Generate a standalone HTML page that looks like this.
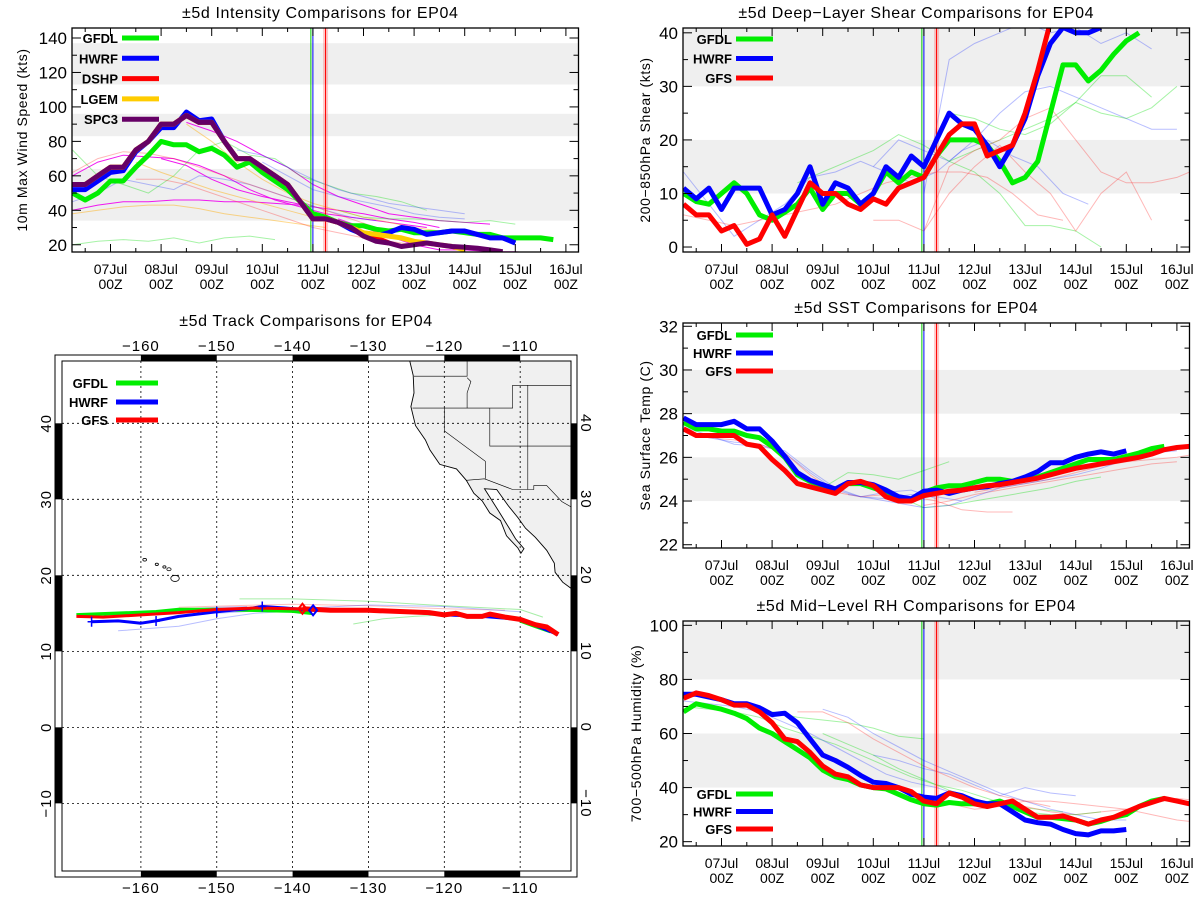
<!DOCTYPE html>
<html><head><meta charset="utf-8"><style>
html,body{margin:0;padding:0;background:#fff;}
svg{display:block;font-family:"Liberation Sans",sans-serif;}
</style></head><body>
<svg id="c" width="1200" height="900" viewBox="0 0 1200 900" xmlns="http://www.w3.org/2000/svg"></svg>
<script>
// ---------- data ----------
const dayLabels = ["07Jul","08Jul","09Jul","10Jul","11Jul","12Jul","13Jul","14Jul","15Jul","16Jul"];
const hourLabel = "00Z";
const seriesStart = -0.75; // days relative to 07Jul 00Z, 6-hourly
// Intensity (kts)
const intGFDL = [50,46,50,57,57,65,72,80,78,78,74,76,72,65,68,62,57,52,45,38,36,33,31,31,29,28,29,27,27,27,28,27,26,26,24,24,24,24,23];
const intHWRF = [52,52,57,62,63,74,80,88,88,97,92,93,80,70,70,65,60,55,45,35,35,33,29,26,25,27,30,29,26,27,28,28,26,24,24,21];
const intDSHP = [55,55,60,65,65,75,80,90,90,95,91,91,80,70,70,65,60,55,45,35,35,33,30,26,24,21];
const intLGEM = [55,55,60,65,65,75,80,90,90,95,91,91,80,70,70,65,60,55,45,35,35,33,30,27,26,25,24,22,21,20,19,17];
const intSPC3 = [55,55,60,65,65,75,80,90,90,95,91,91,80,70,70,65,60,55,45,35,35,33,30,25,22,21,19,20,21,20,19,18.5,18,17,16];
// older (thin) intensity forecasts, 12-hourly: start day then values
const intThinStart = [-0.75,-0.75,1.0,1.5,4.5,-0.75,-0.75,4.5,-0.75,2.5,3.0,-0.75,0.5,1.5,-0.75,0.5];
const intThinKind  = ["m","m","m","m","m","g","g","g","b","b","b","o","o","o","r","r"];
const intThinVals = [
 [60,68,72,71,70,66,60,52,46,42,38,36,34,32,30],
 [40,43,45,45,46,46,45,45,44,43],
 [70,66,58,52,48,45,42,40,38,35,33,30],
 [91,86,80,72,65,55,48,43,38,36,34,33,32],
 [35,30,25,20,17,17,16,16,15],
 [75,60,55,50,60,75,80,72,70,60,55,50,48,45,40],
 [20,22,23,22,24,21,24,25,23],
 [40,36,35,35,34,33,34,32],
 [45,50,58,55,52,60,58,55,50,45,40,36,34],
 [75,72,65,58,52,48,44,42,40,38],
 [68,60,52,48,45,42,38,36,35],
 [38,40,42,43,43,41,38,36,34,32,30],
 [68,62,57,52,48,44,40,36,33],
 [90,80,68,58,50,44,40,36,33,30,28],
 [62,70,74,73,70,65,60,55,50,45,40,35,30],
 [58,58,55,50,45,40,35,30,27,24,22,20]
];
// Shear (kts)
const shrGFDL = [10,8.5,8,10,12,10,6,5,6.5,8,11,7,10,10,8,10,14,12,14,13,17,20,20,20,19,16,12,13,16,25,34,34,31,33,36,38.5,40];
const shrHWRF = [11,9,11,7,11,11,11,6,7,10,15,8,12,11,8,10,15,13,17,15,20,25,23,22,19,15,19,24,32,38,41,40,40,41];
const shrGFS  = [8,6,6,3,4,0.5,1.5,6,2,7,12,10,10,8,7,9,8,11,12,13,17,21,23,23,17,18,19,25,33,42];
const shrThinStart = [4,3,-0.75,1.5,4,4.5,4,3,-0.75];
const shrThinKind  = ["b","b","b","g","g","g","r","r","r"];
const shrThinVals = [
 [10,35,38,40,42,40,41,38,40,37],
 [15,20,18,16,20,25,29,30,28,26,24,22,22],
 [14,8,2,5,8,13,14,16,14,12,14,18,20,17,15,10,8],
 [12,14,16,18,21,19,16,14,10,4,4,3,0],
 [14,25,24,22,21,23,27,32,32,28],
 [16,18,20,22,24,27,25,24,26,30],
 [3,15,18,20,24,26,20,14,12,12,13,15,16,17],
 [5,5,3,10,15,19,14,10,3,10,14,5],
 [6,5,4,5,6,7,8,10,12,13,14,14,13,10,6,5]
];
// SST (C)
const sstGFDL = [27.6,27.3,27.3,27.2,27.2,27.0,26.9,26.5,26.0,25.2,24.9,24.7,24.5,24.8,24.8,24.6,24.4,24.1,24.0,24.4,24.6,24.7,24.7,24.85,25.0,25.0,24.9,25.0,25.1,25.3,25.5,25.7,25.9,25.9,25.9,26.05,26.2,26.4,26.5];
const sstHWRF = [27.8,27.5,27.5,27.5,27.65,27.3,27.3,26.75,26.05,25.3,24.95,24.75,24.55,24.85,24.85,24.75,24.5,24.2,24.1,24.45,24.5,24.35,24.5,24.6,24.65,24.8,24.9,25.1,25.35,25.75,25.75,26.0,26.15,26.25,26.15,26.3];
const sstGFS  = [27.3,27.0,27.0,27.0,27.0,26.6,26.5,25.9,25.4,24.8,24.65,24.5,24.35,24.8,24.9,24.7,24.2,24.0,24.0,24.25,24.35,24.45,24.5,24.6,24.7,24.75,24.85,24.95,25.05,25.2,25.35,25.5,25.6,25.7,25.8,25.9,26.0,26.15,26.35,26.45,26.5];
const sstThinStart = [-0.75,-0.75,2.0,3.5,-0.75,4.0,5.0,2.5];
const sstThinKind  = ["b","b","g","g","r","r","r","b"];
const sstThinVals = [
 [27.4,27.0,26.6,26.5,26.3,25.4,24.6,24.2,24.1,24.3,24.2,24.0],
 [27.2,26.9,26.7,26.6,26.2,25.3,24.5,24.2,24.4,24.5,24.1],
 [24.6,25.3,25.2,25.0,25.4,25.8],
 [24.2,23.7,23.8,24.0,24.2,24.4,24.6,24.9,25.1],
 [27.2,26.9,26.8,26.6,26.2,25.2,24.4,24.2,24.3,24.2,24.0,23.6,23.5,23.5],
 [23.8,24.0,24.3,24.5,24.7,24.9,25.1,25.3,25.5,25.7,25.8],
 [24.4,24.6,24.8,25.0,25.3,25.6,25.8,25.9,26.0,26.2],
 [24.3,24.1,23.9,23.7,23.8,24.2,24.6,24.8,25.0,25.2,25.5,25.9,26.2,26.3]
];
// Mid-level RH (%)
const rhGFDL = [68,71,70,69,67.5,65.5,62,60,57,54,51,46.5,44,43,41,40,39.5,37.5,35.5,34,33.5,34.5,34,34,34,35,33,31,29,29,28.5,28,26.5,27.5,29,30,33,35,36];
const rhHWRF = [74.5,74.5,73.5,72.5,71,71,69.5,67,67.5,64,58,52,50,47.5,44.5,42,41.5,40,37.5,36.5,36,38,37,35,34,34,31,28,27,26.5,24.5,23,22.5,24,24,24.5];
const rhGFS  = [73,75,74,72.5,70.5,70.5,68,64,58,57,53,48,45,44,41,40,40,40,38.5,35,34,38,36.5,34,33,34,35,32,29,29,29.5,28,26.5,28,29,31,33,34.5,36,35,34];
const rhThinStart = [-0.75,1.0,2.0,3.0,-0.75,1.5,4.0,5.5,2.0];
const rhThinKind  = ["g","g","b","b","b","r","r","r","g"];
const rhThinVals = [
 [70,69,68,66,62,59,56,52,48,44,41,39,36,33,32,31],
 [68,66,65,64,62,59,58],
 [69,66,60,55,50,46,42,38,35,32,30,28,28],
 [52,50,47,45,41,37,40,38,37],
 [72,71,70,68,64,60,55,50,45,42,40,37],
 [68,68,64,58,53,48,44,40,37,35,33],
 [36,34,32,33,35,35,34,33,32,30,28,27],
 [33,33,31,30,31,32,34,36,35],
 [60,56,52,47,43,39,36,33,31,30,30,31]
];
// Tracks (lon, lat)
const trkGFSlon  = [-168.5,-165,-160,-155,-150,-145,-140,-138.7,-135,-130,-125,-122,-120,-118.5,-117,-115,-114,-112,-110,-108,-106.5,-105];
const trkGFSlat  = [14.6,14.5,14.8,15.1,15.5,15.7,15.6,15.6,15.4,15.4,15.2,15.1,14.8,15.0,14.6,14.6,14.9,14.5,14.2,13.5,13.2,12.2];
const trkHWRFlon = [-166.5,-163,-160,-158,-155,-150,-146,-144,-141,-137.3,-135,-130,-125,-120,-115,-110,-108,-105];
const trkHWRFlat = [13.9,14.0,13.7,14.0,14.6,15.2,15.6,15.9,15.7,15.4,15.4,15.4,15.2,14.8,14.6,14.2,13.4,12.2];
const trkGFDLlon = [-168.5,-163,-158,-155,-150,-145,-140,-137.5];
const trkGFDLlat = [14.8,15.0,15.2,15.5,15.5,15.4,15.3,15.0];
const trkThinLon = [[-163,-155,-150,-145,-140,-135],[-147,-140,-130,-120,-110,-107],[-155,-148,-140,-130,-120,-112],[-132,-128,-124,-120],[-162,-155,-150,-146],[-150,-140,-130,-120,-110]];
const trkThinLat = [[12.7,13.3,14.3,15.0,15.3,15.5],[16.9,16.9,16.6,16.0,15.5,14.5],[15.8,16.0,16.2,16.0,15.6,15.4],[13.6,14.3,14.6,14.8],[15.0,15.5,15.8,15.9],[15.0,15.6,16.1,15.9,15.2]];

// ---------- helpers ----------
const svg = document.getElementById('c');
const NS = 'http://www.w3.org/2000/svg';
function mk(tag, attrs, parent){ const e=document.createElementNS(NS,tag); for(const k in attrs) e.setAttribute(k,attrs[k]); (parent||svg).appendChild(e); return e; }
const COL = {g:'#00ee00', b:'#0000ff', r:'#ff0000', o:'#ffcc00', p:'#660066', m:'#ff00ff'};
const THIN = {g:['#00dd00',0.35], b:['#3344ff',0.35], r:['#ff3333',0.35], o:['#ffaa00',0.45], m:['#ee00ee',0.9]};

function panel(cfg){
  const g = mk('g',{});
  
  
  const L=cfg.left, R=cfg.right, T=cfg.top, B=cfg.bottom;
  const xs = d => cfg.day0 + d*cfg.ppd;
  const ys = v => B - (v-cfg.vmin)/(cfg.vmax-cfg.vmin)*(B-T);
  const clipId = 'clip-'+cfg.name;
  const cp = mk('clipPath',{id:clipId},g); mk('rect',{x:L,y:T,width:R-L,height:B-T},cp);
  const t = mk('text',{x:(L+R)/2+cfg.titleDx,y:T-10,'text-anchor':'middle','font-size':16,'letter-spacing':'0.6'},g);
  t.textContent = cfg.title;
   
  cfg.bands.forEach(bd=>{
    const r = mk('rect',{x:L,y:ys(Math.min(bd[1],cfg.vmax)),width:R-L,height:ys(bd[0])-ys(Math.min(bd[1],cfg.vmax)),fill:'#efefef'},g);
     
  });
  const plot = mk('g',{'clip-path':'url(#'+clipId+')'},g);
   
  cfg.thinVals.forEach((vals,i)=>{
    const k=cfg.thinKind[i]; const st=cfg.thinStart[i];
    const pts = vals.map((v,j)=>xs(st+j*0.5).toFixed(1)+','+ys(v).toFixed(1)).join(' ');
    const pl = mk('polyline',{points:pts,fill:'none',stroke:THIN[k][0],'stroke-opacity':THIN[k][1],'stroke-width':1},plot);
     
  });
  [[4.0-0.04,'#00cc00'],[4.0,'#0000ff']].forEach(v=>{
    const l=mk('line',{x1:xs(v[0]),x2:xs(v[0]),y1:T,y2:B,stroke:v[1],'stroke-width':1},plot);
     
  });
  const band=mk('rect',{x:xs(4.25)-2.5,y:T,width:5,height:B-T,fill:'#ff6666','fill-opacity':0.35},plot);
   
  const rl=mk('line',{x1:xs(4.25),x2:xs(4.25),y1:T,y2:B,stroke:'#ff0000','stroke-width':1},plot);
   
  cfg.series.forEach(s=>{
    const pts = s.vals.map((v,j)=>xs(seriesStart+j*0.25).toFixed(1)+','+ys(v).toFixed(1)).join(' ');
    const pl = mk('polyline',{points:pts,fill:'none',stroke:s.color,'stroke-width':5,'stroke-linejoin':'round'},plot);
     
  });
  const fr = mk('rect',{x:L,y:T,width:R-L,height:B-T,fill:'none',stroke:'#000','stroke-width':1.3},g);
   
  for(let d=-0.5; d<=9.25; d+=0.5){
    const x=xs(d); if(x<L||x>R) continue;
    const len = (Math.abs(d-Math.round(d))<0.01)?8:4;
    mk('line',{x1:x,x2:x,y1:B,y2:B-len,stroke:'#000'},g);
    mk('line',{x1:x,x2:x,y1:T,y2:T+len,stroke:'#000'},g);
  }
  dayLabels.forEach((lab,i)=>{
    const x=xs(i);
    const t1=mk('text',{x:x,y:B+22,'text-anchor':'middle','font-size':14},g); t1.textContent=lab;
     
    const t2=mk('text',{x:x,y:B+37,'text-anchor':'middle','font-size':14},g); t2.textContent=hourLabel;
     
  });
  for(let v=Math.ceil(cfg.vmin/cfg.minor)*cfg.minor; v<=cfg.vmax; v+=cfg.minor){
    const y=ys(v); const major = Math.abs(v/cfg.major-Math.round(v/cfg.major))<0.001;
    const len = major?9:5;
    mk('line',{x1:L,x2:L+len,y1:y,y2:y,stroke:'#000'},g);
    mk('line',{x1:R,x2:R-len,y1:y,y2:y,stroke:'#000'},g);
    if(major && v>=cfg.labMin){
      const tl=mk('text',{x:L-5,y:y+6,'text-anchor':'end','font-size':17},g); tl.textContent=String(v);
       
    }
  }
  const yt=mk('text',{x:0,y:0,'text-anchor':'middle','font-size':14,'letter-spacing':'0.6',transform:'translate('+cfg.ytX+','+((T+B)/2)+') rotate(-90)'},g);
  yt.textContent=cfg.ytitle;  
  cfg.series.slice().forEach((s,i)=>{
    const y = cfg.legY + i*cfg.legDy;
    const lt=mk('text',{x:cfg.legTextX,y:y+5,'text-anchor':'end','font-size':13,'font-weight':'bold'},g); lt.textContent=s.label;
     
    const ll=mk('line',{x1:cfg.legTextX+4,x2:cfg.legTextX+41,y1:y,y2:y,stroke:s.color,'stroke-width':5},g);
     
  });
}

const leftCol = {left:72, right:578.5, day0:110.5, ppd:50.6};
const rightCol = {left:683, right:1189.5, day0:721.5, ppd:50.6};

panel(Object.assign({}, leftCol, {name:'intensity-panel', title:'±5d Intensity Comparisons for EP04', titleDx:-5,
  top:28, bottom:252, vmin:15.8, vmax:145.8, major:20, minor:10, labMin:20,
  bands:[[113,137],[83,96],[34,64]], ytitle:'10m Max Wind Speed (kts)', ytX:27,
  thinVals:intThinVals, thinKind:intThinKind, thinStart:intThinStart,
  series:[{id:'gfdl',label:'GFDL',color:COL.g,vals:intGFDL},{id:'hwrf',label:'HWRF',color:COL.b,vals:intHWRF},
          {id:'dshp',label:'DSHP',color:COL.r,vals:intDSHP},{id:'lgem',label:'LGEM',color:COL.o,vals:intLGEM},
          {id:'spc3',label:'SPC3',color:COL.p,vals:intSPC3}],
  legTextX:118, legY:38, legDy:20.3}));

panel(Object.assign({}, rightCol, {name:'shear-panel', title:'±5d Deep−Layer Shear Comparisons for EP04', titleDx:-20,
  top:28, bottom:252, vmin:-0.93, vmax:40.9, major:10, minor:5, labMin:0,
  bands:[[10,20],[30,41]], ytitle:'200−850hPa Shear (kts)', ytX:650,
  thinVals:shrThinVals, thinKind:shrThinKind, thinStart:shrThinStart,
  series:[{id:'gfdl',label:'GFDL',color:COL.g,vals:shrGFDL},{id:'hwrf',label:'HWRF',color:COL.b,vals:shrHWRF},{id:'gfs',label:'GFS',color:COL.r,vals:shrGFS}],
  legTextX:732, legY:39, legDy:19.5}));

panel(Object.assign({}, rightCol, {name:'sst-panel', title:'±5d SST Comparisons for EP04', titleDx:-20,
  top:323, bottom:548, vmin:21.85, vmax:32.15, major:2, minor:1, labMin:22,
  bands:[[24,26],[28,30]], ytitle:'Sea Surface Temp (C)', ytX:650,
  thinVals:sstThinVals, thinKind:sstThinKind, thinStart:sstThinStart,
  series:[{id:'gfdl',label:'GFDL',color:COL.g,vals:sstGFDL},{id:'hwrf',label:'HWRF',color:COL.b,vals:sstHWRF},{id:'gfs',label:'GFS',color:COL.r,vals:sstGFS}],
  legTextX:732, legY:335, legDy:18}));

panel(Object.assign({}, rightCol, {name:'rh-panel', title:'±5d Mid−Level RH Comparisons for EP04', titleDx:-20,
  top:621, bottom:846, vmin:18.4, vmax:101.6, major:20, minor:10, labMin:20,
  bands:[[40,60],[80,101.6]], ytitle:'700−500hPa Humidity (%)', ytX:641,
  thinVals:rhThinVals, thinKind:rhThinKind, thinStart:rhThinStart,
  series:[{id:'gfdl',label:'GFDL',color:COL.g,vals:rhGFDL},{id:'hwrf',label:'HWRF',color:COL.b,vals:rhHWRF},{id:'gfs',label:'GFS',color:COL.r,vals:rhGFS}],
  legTextX:732, legY:794, legDy:17.5}));

// ---------- map ----------
(function(){
  const g = mk('g',{});
   
  const L=62,R=571,T=361,B=871, lonMin=-170.4, lonMax=-103.3, latMin=-18.9, latMax=48.2;
  const X = lon => L+(lon-lonMin)/(lonMax-lonMin)*(R-L);
  const Y = lat => B-(lat-latMin)/(latMax-latMin)*(B-T);
  const t=mk('text',{x:306,y:326,'text-anchor':'middle','font-size':16,'letter-spacing':'0.6'},g);
  t.textContent='±5d Track Comparisons for EP04';  
  const cp=mk('clipPath',{id:'mapclip'},g); mk('rect',{x:L,y:T,width:R-L,height:B-T},cp);
  const inner=mk('g',{'clip-path':'url(#mapclip)'},g);
  const coast=[[-124.6,48.4],[-124.1,46.3],[-124.0,44],[-124.4,42.2],[-123.8,39.7],[-122.5,37.8],[-121.9,36.5],[-120.6,34.6],[-118.4,34.0],[-117.1,32.5],[-116.1,30.8],[-115.0,29.8],[-114.0,28.2],[-112.6,27.2],[-111.8,25.2],[-110.3,23.6],[-109.9,22.9],[-109.5,23.5],[-110.6,24.8],[-111.5,26.3],[-112.8,28.4],[-114.7,31.4],[-113.1,31.3],[-111.6,29.2],[-110.3,27.6],[-109.3,26.2],[-108.0,25.0],[-106.5,23.3],[-105.5,21.6],[-105.4,20.4],[-104.4,19.1],[-103.3,18.3],[-103.3,48.4]];
  const lp=mk('polygon',{points:coast.map(p=>X(p[0]).toFixed(1)+','+Y(p[1]).toFixed(1)).join(' '),fill:'#f0f0f0',stroke:'#000','stroke-width':0.9},inner);
   
  const borders=[[[-124,46.2],[-117,46.2],[-117,49]],[[-124.2,42],[-111,42],[-111,45],[-103.3,45]],[[-120,42],[-120,39],[-114.6,35],[-114.6,32.7]],[[-117,46],[-116.5,45.5],[-117,44],[-117,42]],[[-114,42],[-114,37],[-103.3,37]],[[-109,45],[-109,31.3]],[[-117.1,32.5],[-114.7,32.7],[-111,31.3],[-108.2,31.3],[-108.2,31.8],[-106.5,31.8],[-104.5,29.7],[-103.3,29]]];
  borders.forEach(b=>{ const pl=mk('polyline',{points:b.map(p=>X(p[0]).toFixed(1)+','+Y(p[1]).toFixed(1)).join(' '),fill:'none',stroke:'#000','stroke-width':0.6},inner);
      });
  [[-159.5,22.05,0.35],[-157.9,21.45,0.3],[-156.9,21.1,0.3],[-156.3,20.8,0.4],[-155.5,19.6,0.8]].forEach(h=>{
    const e=mk('ellipse',{cx:X(h[0]),cy:Y(h[1]),rx:h[2]*7.6*0.7,ry:h[2]*7.6*0.5,fill:'none',stroke:'#000','stroke-width':0.8},inner);
     
  });
  for(let lon=-160; lon<=-110; lon+=10) mk('line',{x1:X(lon),x2:X(lon),y1:T,y2:B,stroke:'#000','stroke-width':0.8,'stroke-dasharray':'2,3'},inner);
  for(let lat=-10; lat<=40; lat+=10) mk('line',{x1:L,x2:R,y1:Y(lat),y2:Y(lat),stroke:'#000','stroke-width':0.8,'stroke-dasharray':'2,3'},inner);
  trkThinLon.forEach((lons,i)=>{
    const c=['#3344ff','#00cc00','#ff4444','#00cc00','#3344ff','#3344ff'][i];
    const pl=mk('polyline',{points:lons.map((lo,j)=>X(lo).toFixed(1)+','+Y(trkThinLat[i][j]).toFixed(1)).join(' '),fill:'none',stroke:c,'stroke-opacity':0.35,'stroke-width':1},inner);
     
  });
  function track(lons,lats,color,id,w){
    const pl=mk('polyline',{points:lons.map((lo,j)=>X(lo).toFixed(1)+','+Y(lats[j]).toFixed(1)).join(' '),fill:'none',stroke:color,'stroke-width':w,'stroke-linejoin':'round'},inner);
     
  }
  track(trkGFDLlon,trkGFDLlat,COL.g,'gfdl-track',3.5);
  track([-110,-108,-106],[14.0,13.3,12.6],COL.g,'gfdl-track-east',3.5);
  track(trkHWRFlon,trkHWRFlat,COL.b,'hwrf-track',3);
  track(trkGFSlon.slice(0,8),trkGFSlat.slice(0,8),COL.r,'gfs-track-west',3);
  track(trkGFSlon.slice(7),trkGFSlat.slice(7),COL.r,'gfs-track-east',5);
  [[-166.5,13.9],[-158,14.0],[-150,15.2],[-144,15.9]].forEach(p=>{ mk('path',{d:`M${X(p[0])-4},${Y(p[1])}h8M${X(p[0])},${Y(p[1])-5}v10`,stroke:COL.b,'stroke-width':1.5},inner); });
  const d1=mk('path',{d:`M${X(-138.7)},${Y(15.6)-5}l4,5l-4,5l-4,-5z`,fill:'none',stroke:COL.r,'stroke-width':2},inner);
   
  const d2=mk('path',{d:`M${X(-137.3)},${Y(15.4)-5}l4,5l-4,5l-4,-5z`,fill:'none',stroke:COL.b,'stroke-width':2},inner);
   
  mk('rect',{x:55,y:355,width:522,height:522,fill:'none',stroke:'#000','stroke-width':1},g);
  mk('rect',{x:L,y:T,width:R-L,height:B-T,fill:'none',stroke:'#000','stroke-width':1},g);
  [[-160,-150],[-140,-130],[-120,-110]].forEach(s=>{
    mk('rect',{x:X(s[0]),y:355,width:X(s[1])-X(s[0]),height:6,fill:'#000'},g);
    mk('rect',{x:X(s[0]),y:871,width:X(s[1])-X(s[0]),height:6,fill:'#000'},g);
  });
  [[30,40],[10,20],[-10,0]].forEach(s=>{
    mk('rect',{x:55,y:Y(s[1]),width:7,height:Y(s[0])-Y(s[1]),fill:'#000'},g);
    mk('rect',{x:571,y:Y(s[1]),width:6,height:Y(s[0])-Y(s[1]),fill:'#000'},g);
  });
  for(let lon=-160; lon<=-110; lon+=10){
    const a=mk('text',{x:X(lon),y:351,'text-anchor':'middle','font-size':15,'letter-spacing':'1'},g); a.textContent='−'+(-lon);
     
    const b=mk('text',{x:X(lon),y:893,'text-anchor':'middle','font-size':15,'letter-spacing':'1'},g); b.textContent='−'+(-lon);
     
  }
  for(let lat=-10; lat<=40; lat+=10){
    const s=lat<0?'−'+(-lat):String(lat);
    const a=mk('text',{x:0,y:0,'text-anchor':'middle','font-size':15,'letter-spacing':'1',transform:`translate(51,${Y(lat)}) rotate(-90)`},g); a.textContent=s;
     
    const b=mk('text',{x:0,y:0,'text-anchor':'middle','font-size':15,'letter-spacing':'1',transform:`translate(581,${Y(lat)}) rotate(90)`},g); b.textContent=s;
     
  }
  [['GFDL',COL.g,383],['HWRF',COL.b,402],['GFS',COL.r,420]].forEach(e=>{
    const tx=mk('text',{x:108,y:e[2]+5,'text-anchor':'end','font-size':13,'font-weight':'bold'},g); tx.textContent=e[0];
     
    const ln=mk('line',{x1:116,x2:158,y1:e[2],y2:e[2],stroke:e[1],'stroke-width':5},g);
     
  });
})();
</script>
</body></html>
